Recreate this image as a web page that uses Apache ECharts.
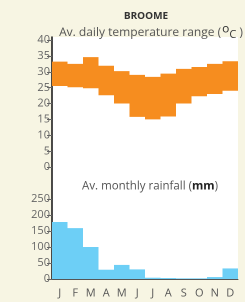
<!DOCTYPE html>
<html>
<head>
<meta charset="utf-8">
<script src="https://cdn.jsdelivr.net/npm/echarts@6/dist/echarts.min.js"></script>
<style>
    html, body { margin: 0; padding: 0; background: #f7f5e3; }
    #chart { width: 245px; height: 302px; }
</style>
</head>
<body>
<div id="chart"></div>
<script>
    // 月份 / 数据
    var months = ['J', 'F', 'M', 'A', 'M', 'J', 'J', 'A', 'S', 'O', 'N', 'D'];
    var tempLow = [25.5, 25.1, 24.8, 22.6, 20.0, 15.8, 15.0, 15.9, 20.0, 22.3, 23.0, 24.0];
    var tempHigh = [33.2, 32.5, 34.6, 31.9, 30.2, 29.0, 28.4, 29.4, 30.9, 31.5, 32.5, 33.3];
    var rainfall = [178, 159, 100, 29, 44, 30, 4, 3, 2, 2, 6, 33];
    var tempTicks = [0, 40, 5];
    var rainTicks = [0, 250, 50];

    var range = tempHigh.map(function (h, i) { return +(h - tempLow[i]).toFixed(1); });

    // 2倍像素渲染，柱子边界落在整像素上，避免缝隙
    var chart = echarts.init(document.getElementById('chart'), null, { devicePixelRatio: 2 });
    var font = 'Open Sans';
    var option = {
        backgroundColor: '#f7f5e3',
        animation: false,
        title: [
            {
                text: 'BROOME',
                left: 141, top: 6, textAlign: 'center',
                textStyle: { fontFamily: font, fontSize: 10, fontWeight: 'bold', color: '#333' }
            },
            {
                text: '{a|Av. daily temperature range (}{o|o}{c|C}{a| )}',
                left: 146, top: 18, textAlign: 'center',
                textStyle: {
                    fontWeight: 'normal',
                    rich: {
                        a: { fontFamily: font, fontSize: 12, color: '#555', fontWeight: 'normal' },
                        o: { fontFamily: font, fontSize: 12, color: '#333', fontWeight: 'normal', padding: [0, 0, 7, 1] },
                        c: { fontFamily: font, fontSize: 11, color: '#333', fontWeight: 'normal', padding: [5, 0, 0, 0] }
                    }
                }
            },
            {
                text: '{a|Av. monthly rainfall (}{b|mm}{a|)}',
                left: 145, top: 175, textAlign: 'center',
                textStyle: {
                    fontWeight: 'normal',
                    rich: {
                        a: { fontFamily: font, fontSize: 11.5, color: '#555', fontWeight: 'normal' },
                        b: { fontFamily: font, fontSize: 11.5, color: '#222', fontWeight: 'bold' }
                    }
                }
            }
        ],
        grid: [
            // 白色背景
            { left: 52, right: 7, top: 37, bottom: 23, show: true, backgroundColor: '#fff', borderWidth: 0 },
            { left: 52, right: 7, top: 40, height: 127 },
            { left: 52, right: 7, top: 199, height: 80 }
        ],
        xAxis: [
            { gridIndex: 0, type: 'value', show: false },
            { gridIndex: 1, type: 'category', data: months, show: false },
            {
                gridIndex: 2, type: 'category', data: months,
                axisLine: { lineStyle: { color: '#555', width: 1 } },
                axisTick: { length: 6, lineStyle: { color: '#777' } },
                axisLabel: { fontFamily: font, fontSize: 11, color: '#555', margin: 9 }
            }
        ],
        yAxis: [
            {
                gridIndex: 0, type: 'value', min: 0, max: 1,
                axisLine: { show: true, lineStyle: { color: '#111', width: 1.5 } },
                axisTick: { show: false }, axisLabel: { show: false }, splitLine: { show: false }
            },
            {
                gridIndex: 1, type: 'value', min: tempTicks[0], max: tempTicks[1], interval: tempTicks[2],
                axisLine: { show: false },
                axisTick: { show: true, length: 5, lineStyle: { color: '#666' } },
                axisLabel: { fontFamily: font, fontSize: 11, color: '#666', margin: 2 },
                splitLine: { show: false }
            },
            {
                gridIndex: 2, type: 'value', min: rainTicks[0], max: rainTicks[1], interval: rainTicks[2],
                axisLine: { show: false },
                axisTick: { show: true, length: 5, lineStyle: { color: '#666' } },
                axisLabel: { fontFamily: font, fontSize: 11, color: '#666', margin: 2 },
                splitLine: { show: false }
            }
        ],
        series: [
            {
                name: 'low', type: 'bar', stack: 't', xAxisIndex: 1, yAxisIndex: 1,
                barWidth: '100%', silent: true,
                itemStyle: { color: 'rgba(0,0,0,0)' },
                data: tempLow
            },
            {
                name: 'range', type: 'bar', stack: 't', xAxisIndex: 1, yAxisIndex: 1,
                barWidth: '100%',
                itemStyle: { color: '#f68d1f' },
                data: range
            },
            {
                name: 'rain', type: 'bar', xAxisIndex: 2, yAxisIndex: 2,
                barWidth: '100%',
                itemStyle: { color: '#6dcff6' },
                data: rainfall
            }
        ]
    };
    chart.setOption(option);
</script>
</body>
</html>
